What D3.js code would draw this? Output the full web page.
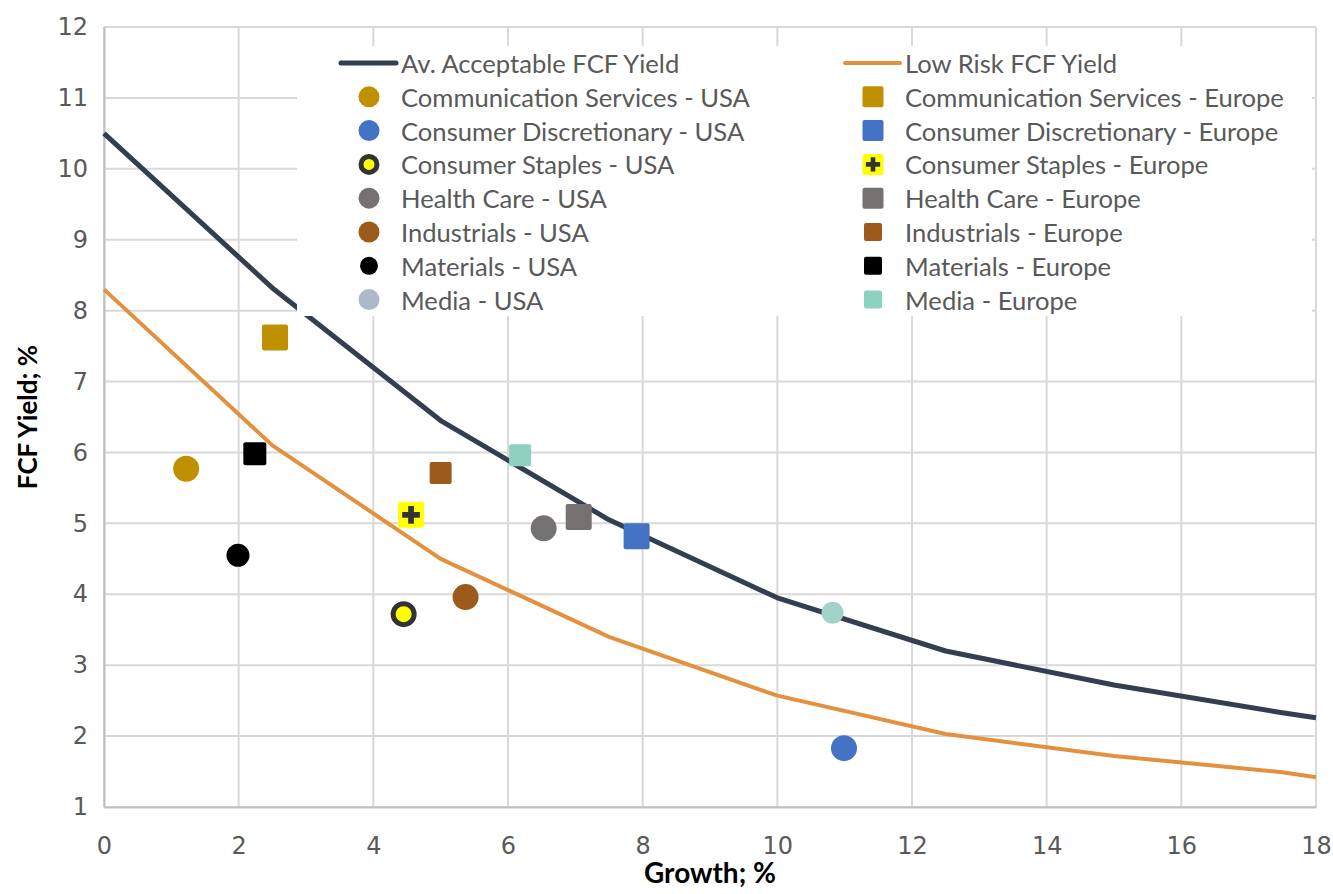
<!DOCTYPE html>
<html><head><meta charset="utf-8">
<script src="https://cdn.jsdelivr.net/npm/d3@7"></script>
<style>body{margin:0;background:#fff}</style></head>
<body><svg id="c" width="1333" height="894"></svg>
<script>
// ---------- data ----------
const curveGrowth = [0, 2.5, 5, 7.5, 10, 12.5, 15, 17.5, 18];
const avgAcceptableYield = [10.5, 8.32, 6.45, 5.05, 3.95, 3.2, 2.72, 2.33, 2.26];
const lowRiskYield = [8.3, 6.1, 4.5, 3.4, 2.57, 2.03, 1.72, 1.49, 1.42];
const sectors = ["Communication Services", "Consumer Discretionary", "Consumer Staples", "Health Care", "Industrials", "Materials", "Media"];
const usaGrowth = [1.22, 10.99, 4.45, 6.53, 5.37, 1.99, 10.82];
const usaYield = [5.77, 1.83, 3.72, 4.93, 3.96, 4.55, 3.74];
const europeGrowth = [2.54, 7.91, 4.56, 7.05, 5.0, 2.24, 6.18];
const europeYield = [7.62, 4.82, 5.12, 5.09, 5.71, 5.98, 5.96];
const usaColors = ["#BF9000", "#4472C4", "#FFFF00", "#767171", "#9C5A1B", "#000000", "#ADB9CA"];
const usaPointColors = ["#BF9000", "#4472C4", "#FFFF00", "#767171", "#9C5A1B", "#000000", "#A3D2CA"];
const europeColors = ["#BF9000", "#4472C4", "#FFFF00", "#767171", "#9C5A1B", "#000000", "#8FD1C1"];
const usaSizes = [26, 26, 26, 26, 26, 23, 22];
const europeSizes = [26, 26, 26, 26, 22, 23, 22];
const xTicks = [0, 2, 4, 6, 8, 10, 12, 14, 16, 18];
const yTicks = [1, 2, 3, 4, 5, 6, 7, 8, 9, 10, 11, 12];
const lineNames = ["Av. Acceptable FCF Yield", "Low Risk FCF Yield"];
const lineColors = ["#333F50", "#E3913F"];
const xTitle = "Growth; %";
const yTitle = "FCF Yield; %";

// ---------- layout ----------
const svg = d3.select("#c");
const L = 104, R = 1316, T = 27, B = 807;
const x = d3.scaleLinear().domain([0, 18]).range([L, R]);
const y = d3.scaleLinear().domain([1, 12]).range([B, T]);
const FONT = "Lato, 'Open Sans', sans-serif";
const TICKFONT = "'DejaVu Sans', sans-serif";

// gridlines
svg.append("g").selectAll("line").data(xTicks).join("line")
  .attr("x1", d => x(d)).attr("x2", d => x(d)).attr("y1", T).attr("y2", B)
  .attr("stroke", "#d9d9d9").attr("stroke-width", 2);
svg.append("g").selectAll("line").data(yTicks).join("line")
  .attr("x1", L).attr("x2", R).attr("y1", d => y(d)).attr("y2", d => y(d))
  .attr("stroke", "#d9d9d9").attr("stroke-width", 2);

// axes
const xAxis = svg.append("g").attr("transform", `translate(0,${B})`)
  .call(d3.axisBottom(x).tickValues(xTicks).tickSize(0).tickPadding(30).tickFormat(d3.format("d")));
const yAxis = svg.append("g").attr("transform", `translate(${L},0)`)
  .call(d3.axisLeft(y).tickValues(yTicks).tickSize(0).tickPadding(16).tickFormat(d3.format("d")));
[xAxis, yAxis].forEach(a => {
  a.select(".domain").attr("stroke", "#bfbfbf").attr("stroke-width", 2);
  a.selectAll("text").attr("fill", "#595959").style("font-family", TICKFONT).style("font-size", "24px");
});

// axis titles
svg.append("text").attr("x", (L + R) / 2).attr("y", 883).attr("text-anchor", "middle")
  .style("font-family", FONT).style("font-weight", "bold").style("font-size", "28px").text(xTitle);
svg.append("text").attr("transform", `translate(37,${(T + B) / 2}) rotate(-90)`).attr("text-anchor", "middle")
  .style("font-family", FONT).style("font-weight", "bold").style("font-size", "26px").text(yTitle);

// lines
const lineGen = d3.line().x(d => x(d[0])).y(d => y(d[1]));
[avgAcceptableYield, lowRiskYield].forEach((ys, i) => {
  svg.append("path").datum(curveGrowth.map((g, j) => [g, ys[j]]))
    .attr("d", lineGen).attr("fill", "none").attr("stroke", lineColors[i])
    .attr("stroke-width", i === 0 ? 5 : 4).attr("stroke-linejoin", "round");
});

// markers
function circleMarker(g, cx, cy, size, idx, colors) {
  if (idx === 2) {
    g.append("circle").attr("cx", cx).attr("cy", cy).attr("r", size / 2 - 2.5)
      .attr("fill", colors[idx]).attr("stroke", "#333333").attr("stroke-width", 5);
  } else {
    g.append("circle").attr("cx", cx).attr("cy", cy).attr("r", size / 2).attr("fill", colors[idx]);
  }
}
function squareMarker(g, cx, cy, size, idx, colors) {
  g.append("rect").attr("x", cx - size / 2).attr("y", cy - size / 2).attr("width", size).attr("height", size)
    .attr("rx", 2).attr("fill", colors[idx]);
  if (idx === 2) {
    const a = size * 0.34, w = size * 0.22;
    g.append("rect").attr("x", cx - a).attr("y", cy - w / 2).attr("width", 2 * a).attr("height", w).attr("fill", "#333333");
    g.append("rect").attr("x", cx - w / 2).attr("y", cy - a).attr("width", w).attr("height", 2 * a).attr("fill", "#333333");
  }
}
const mk = svg.append("g");
sectors.forEach((s, i) => {
  circleMarker(mk, x(usaGrowth[i]), y(usaYield[i]), usaSizes[i], i, usaPointColors);
});
sectors.forEach((s, i) => {
  squareMarker(mk, x(europeGrowth[i]), y(europeYield[i]), europeSizes[i], i, europeColors);
});

// legend
const lg = svg.append("g");
lg.append("rect").attr("x", 297).attr("y", 46).attr("width", 1015).attr("height", 270).attr("fill", "#fff");
const rowY = i => 63 + i * 33.8;
const colX = [341, 845];
const txtStyle = t => t.attr("fill", "#595959").style("font-family", FONT).style("font-size", "25.6px").attr("dominant-baseline", "central");
lineNames.forEach((n, c) => {
  lg.append("line").attr("x1", colX[c]).attr("x2", colX[c] + 55).attr("y1", rowY(0)).attr("y2", rowY(0))
    .attr("stroke", lineColors[c]).attr("stroke-width", c === 0 ? 5 : 4).attr("stroke-linecap", "round");
  txtStyle(lg.append("text").attr("x", colX[c] + 60).attr("y", rowY(0)).text(n));
});
sectors.forEach((s, i) => {
  circleMarker(lg, colX[0] + 28, rowY(i + 1), i === 5 ? 18 : 21, i, usaColors);
  txtStyle(lg.append("text").attr("x", colX[0] + 60).attr("y", rowY(i + 1)).text(s + " - USA"));
  squareMarker(lg, colX[1] + 28, rowY(i + 1), (i >= 4) ? 18 : 21, i, europeColors);
  txtStyle(lg.append("text").attr("x", colX[1] + 60).attr("y", rowY(i + 1)).text(s + " - Europe"));
});
</script>
</body></html>
